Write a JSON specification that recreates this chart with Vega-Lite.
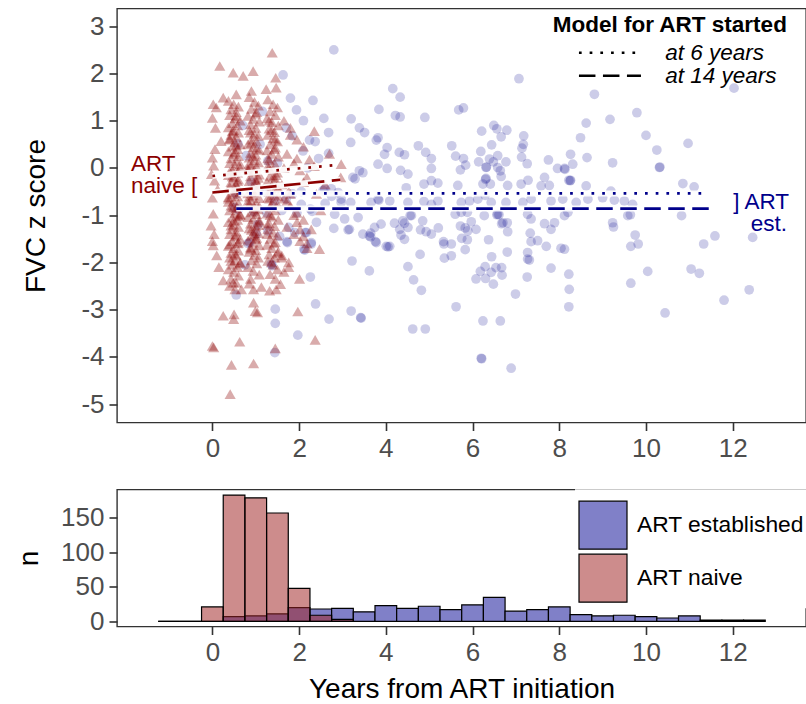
{
"$schema":"https://vega.github.io/schema/vega-lite/v6.json",
"background":"white",
"padding":{"left":14,"top":7.5,"right":1,"bottom":2},
"spacing":26,
"resolve":{"scale":{"color":"independent"},"legend":{"color":"independent"}},
"config":{"font":"Liberation Sans","view":{"stroke":"#333333","strokeWidth":1.4},
"axis":{"grid":false,"domain":false,"tickColor":"#333333","tickWidth":1.6,"tickSize":8,"labelFontSize":26,"labelColor":"#4d4d4d","labelFont":"Liberation Sans","titleFont":"Liberation Sans","titleFontSize":28,"titleFontWeight":"normal","titleColor":"black","labelPadding":5}},
"datasets":{
"est":[{"x":1.63,"y":1.97},{"x":2.8,"y":2.5},{"x":1.8,"y":1.48},{"x":2.32,"y":1.43},{"x":1.94,"y":1.23},{"x":2.57,"y":1.05},{"x":3.2,"y":1.04},{"x":2.68,"y":0.75},{"x":3.39,"y":0.85},{"x":3.51,"y":0.75},{"x":1.84,"y":0.68},{"x":2.24,"y":0.59},{"x":2.37,"y":0.56},{"x":3.19,"y":0.54},{"x":3.84,"y":1.24},{"x":3.82,"y":0.64},{"x":4.03,"y":0.43},{"x":3.97,"y":0.29},{"x":3.82,"y":0.08},{"x":4.03,"y":-0.01},{"x":0.59,"y":0.51},{"x":0.78,"y":0.26},{"x":1.28,"y":0.15},{"x":2.09,"y":0.36},{"x":2.68,"y":0.31},{"x":3.39,"y":-0.06},{"x":3.24,"y":-0.2},{"x":2.59,"y":-0.45},{"x":2.74,"y":-0.44},{"x":2.97,"y":-0.73},{"x":3.19,"y":-0.73},{"x":3.66,"y":-0.73},{"x":3.84,"y":-0.68},{"x":2.82,"y":-0.98},{"x":3.05,"y":-1.08},{"x":3.16,"y":-1.3},{"x":3.36,"y":-1.05},{"x":2.8,"y":-1.28},{"x":3.13,"y":-1.31},{"x":3.47,"y":-1.4},{"x":3.62,"y":-1.44},{"x":3.76,"y":-1.56},{"x":4.05,"y":-1.67},{"x":4.2,"y":-1.17},{"x":4.32,"y":-1.3},{"x":2.14,"y":-1.37},{"x":2.28,"y":-1.58},{"x":2.11,"y":-1.72},{"x":1.72,"y":-1.56},{"x":1.9,"y":-1.37},{"x":0.82,"y":-1.6},{"x":1.01,"y":-1.4},{"x":1.28,"y":-1.33},{"x":1.44,"y":-0.7},{"x":1.7,"y":-0.66},{"x":2.05,"y":-0.77},{"x":2.26,"y":-0.87},{"x":3.22,"y":-1.97},{"x":3.62,"y":-2.18},{"x":2.26,"y":-2.31},{"x":1.38,"y":-2.07},{"x":0.55,"y":-2.69},{"x":1.45,"y":-2.99},{"x":1.45,"y":-3.29},{"x":2.38,"y":-2.88},{"x":2.69,"y":-3.2},{"x":3.2,"y":-3.03},{"x":3.42,"y":-3.17},{"x":1.97,"y":-3.54},{"x":1.44,"y":-3.91},{"x":0.51,"y":-0.84},
{"x":4.16,"y":1.68},{"x":4.33,"y":1.5},{"x":5.68,"y":1.23},{"x":5.79,"y":1.27},{"x":7.07,"y":1.89},{"x":4.22,"y":1.11},{"x":4.33,"y":1.08},{"x":4.9,"y":1.07},{"x":3.78,"y":0.59},{"x":4.75,"y":0.47},{"x":4.92,"y":0.33},{"x":5.05,"y":0.2},{"x":4.31,"y":0.33},{"x":4.43,"y":0.28},{"x":3.47,"y":-0.1},{"x":3.29,"y":-0.23},{"x":4.34,"y":-0.05},{"x":4.51,"y":-0.13},{"x":5.05,"y":-0.01},{"x":4.88,"y":-0.34},{"x":5.05,"y":-0.27},{"x":5.2,"y":-0.32},{"x":4.47,"y":-0.42},{"x":5.52,"y":0.47},{"x":5.61,"y":0.25},{"x":5.79,"y":0.2},{"x":5.84,"y":0.06},{"x":5.72,"y":-0.04},{"x":5.66,"y":-0.37},{"x":6.21,"y":0.78},{"x":6.49,"y":0.9},{"x":6.56,"y":0.83},{"x":6.79,"y":0.8},{"x":6.66,"y":0.66},{"x":6.44,"y":0.49},{"x":6.19,"y":0.35},{"x":7.18,"y":0.68},{"x":7.17,"y":0.5},{"x":7.14,"y":0.42},{"x":6.58,"y":0.26},{"x":6.39,"y":0.19},{"x":6.48,"y":0.13},{"x":6.14,"y":0.13},{"x":6.77,"y":0.13},{"x":7.13,"y":0.23},{"x":7.26,"y":0.09},{"x":6.31,"y":0.01},{"x":6.32,"y":0.02},{"x":6.58,"y":0.01},{"x":6.64,"y":-0.06},{"x":6.66,"y":-0.18},{"x":6.3,"y":-0.24},{"x":6.31,"y":-0.22},{"x":6.24,"y":-0.34},{"x":6.41,"y":-0.34},{"x":6.81,"y":-0.37},{"x":7.12,"y":-0.34},{"x":7.28,"y":-0.26},{"x":7.75,"y":0.17},{"x":7.58,"y":-0.38},{"x":7.66,"y":-0.2},{"x":7.77,"y":-0.37},{"x":7.96,"y":-0.01},{"x":8.12,"y":-0.01},{"x":8.22,"y":-0.26},{"x":8.26,"y":0.29},{"x":2.97,"y":-0.66},{"x":3.82,"y":-0.66},{"x":4.09,"y":-0.7},{"x":4.51,"y":-0.73},{"x":4.88,"y":-0.71},{"x":5.05,"y":-0.77},{"x":5.2,"y":-0.7},{"x":5.74,"y":-0.73},{"x":5.93,"y":-0.7},{"x":6.12,"y":-0.66},{"x":6.29,"y":-0.58},{"x":6.43,"y":-0.73},{"x":6.77,"y":-0.73},{"x":7.16,"y":-0.73},{"x":7.35,"y":-0.66},{"x":7.81,"y":-0.7},{"x":8.08,"y":-0.66},{"x":4.39,"y":-1.12},{"x":4.59,"y":-1.01},{"x":4.85,"y":-1.12},{"x":5.74,"y":-0.94},{"x":5.88,"y":-0.94},{"x":6.58,"y":-0.98},{"x":6.7,"y":-1.16},{"x":7.27,"y":-0.98},{"x":7.35,"y":-1.08},{"x":7.66,"y":-1.18},{"x":7.89,"y":-1.16},{"x":8.12,"y":-1.01},{"x":8.2,"y":-0.94},{"x":3.74,"y":-1.26},{"x":3.89,"y":-1.19},
{"x":3.65,"y":-1.38},{"x":3.65,"y":-1.46},{"x":3.78,"y":-1.58},{"x":4.01,"y":-1.66},{"x":4.09,"y":-1.66},{"x":4.43,"y":-1.17},{"x":4.51,"y":-1.26},{"x":4.35,"y":-1.42},{"x":4.43,"y":-1.51},{"x":4.56,"y":-1.01},{"x":4.8,"y":-1.31},{"x":4.93,"y":-1.35},{"x":5.05,"y":-1.4},{"x":5.21,"y":-1.27},{"x":5.33,"y":-1.56},{"x":5.34,"y":-1.61},{"x":5.51,"y":-1.61},{"x":4.79,"y":-1.83},{"x":5.35,"y":-1.91},{"x":5.51,"y":-1.86},{"x":5.6,"y":-0.98},{"x":5.72,"y":-1.23},{"x":5.83,"y":-1.27},{"x":5.89,"y":-1.33},{"x":5.75,"y":-1.49},{"x":5.88,"y":-1.52},{"x":5.83,"y":-1.73},{"x":5.97,"y":-1.14},{"x":6.08,"y":-1.3},{"x":6.37,"y":-1.52},{"x":6.27,"y":-1.01},{"x":6.56,"y":-0.99},{"x":6.61,"y":-0.99},{"x":6.67,"y":-1.18},{"x":6.8,"y":-1.16},{"x":6.81,"y":-1.35},{"x":6.44,"y":-1.88},{"x":6.8,"y":-1.78},{"x":6.18,"y":-2.19},{"x":6.29,"y":-2.09},{"x":6.43,"y":-2.21},{"x":6.54,"y":-2.11},{"x":6.67,"y":-2.11},{"x":6.68,"y":-2.27},{"x":6.08,"y":-2.35},{"x":6.3,"y":-2.34},{"x":6.48,"y":-2.46},{"x":4.51,"y":-2.09},{"x":4.64,"y":-2.37},{"x":4.82,"y":-2.59},{"x":3.43,"y":-3.18},{"x":4.62,"y":-3.41},{"x":4.91,"y":-3.41},{"x":5.62,"y":-2.94},{"x":6.24,"y":-3.24},{"x":6.64,"y":-3.24},{"x":6.2,"y":-4.03},{"x":6.21,"y":-4.04},{"x":6.89,"y":-4.24},{"x":6.99,"y":-2.67},{"x":7.33,"y":-1.38},{"x":7.35,"y":-1.56},{"x":7.27,"y":-1.79},{"x":7.27,"y":-1.93},{"x":7.31,"y":-1.95},{"x":7.26,"y":-2.31},{"x":7.5,"y":-1.54},{"x":7.7,"y":-1.66},{"x":7.81,"y":-2.12},{"x":7.81,"y":-1.3},{"x":8.04,"y":-1.7},{"x":8.12,"y":-1.72},{"x":8.22,"y":-2.25},{"x":8.23,"y":-2.57},{"x":8.22,"y":-2.94},
{"x":8.81,"y":1.56},{"x":12.03,"y":1.69},{"x":9.79,"y":1.17},{"x":9.17,"y":1.03},{"x":8.62,"y":0.95},{"x":8.49,"y":0.64},{"x":10.0,"y":0.69},{"x":10.97,"y":0.52},{"x":10.25,"y":0.38},{"x":8.64,"y":0.22},{"x":9.23,"y":0.11},{"x":10.31,"y":0.01},{"x":10.32,"y":0.02},{"x":8.13,"y":-0.03},{"x":8.31,"y":0.08},{"x":8.25,"y":-0.27},{"x":8.26,"y":-0.26},{"x":8.62,"y":-0.38},{"x":10.85,"y":-0.33},{"x":11.11,"y":-0.4},{"x":9.19,"y":-0.49},{"x":9.0,"y":-0.63},{"x":9.27,"y":-0.68},{"x":9.5,"y":-0.7},{"x":8.39,"y":-0.73},{"x":8.66,"y":-0.66},{"x":9.69,"y":-0.77},{"x":9.64,"y":-0.99},{"x":10.82,"y":-1.01},{"x":9.23,"y":-1.16},{"x":9.25,"y":-1.25},{"x":9.75,"y":-1.42},{"x":11.59,"y":-1.44},{"x":12.46,"y":-1.47},{"x":9.58,"y":-1.01},{"x":9.82,"y":-1.61},{"x":9.65,"y":-1.66},{"x":11.33,"y":-1.61},{"x":10.04,"y":-2.19},{"x":9.65,"y":-2.44},{"x":11.04,"y":-2.14},{"x":11.23,"y":-2.23},{"x":10.44,"y":-3.07},{"x":11.8,"y":-2.8},{"x":12.38,"y":-2.58},
{"x":0.6,"y":-0.88},{"x":0.95,"y":-0.92},{"x":1.25,"y":-0.95},{"x":1.6,"y":-0.9},{"x":1.95,"y":-0.95},{"x":2.3,"y":-0.92},{"x":1.85,"y":-0.55},{"x":2.05,"y":-0.5},{"x":2.55,"y":-0.48},{"x":2.75,"y":-0.6},{"x":2.9,"y":-0.52},{"x":2.6,"y":-0.75},{"x":1.76,"y":-1.26},{"x":2.17,"y":-1.37},{"x":1.73,"y":-1.58},{"x":2.13,"y":-1.74},{"x":2.28,"y":-1.61},{"x":0.86,"y":-1.58},{"x":1.36,"y":-2.04},{"x":0.55,"y":-0.55},{"x":0.9,"y":-0.3},{"x":1.1,"y":0.5},{"x":1.5,"y":0.1},{"x":2.2,"y":0.0},{"x":2.45,"y":0.2},{"x":1.7,"y":0.85},{"x":2.1,"y":1.0},{"x":1.05,"y":-1.2},{"x":0.75,"y":-2.05},{"x":1.2,"y":-0.5},{"x":0.7,"y":0.9},{"x":1.15,"y":1.2},{"x":1.55,"y":-1.45},{"x":2.4,"y":-1.15}],
"naive":[{"x":0.02,"y":1.35},{"x":0.07,"y":0.85},{"x":0.0,"y":1.06},{"x":0.2,"y":0.57},{"x":0.0,"y":0.22},{"x":0.03,"y":0.05},{"x":-0.02,"y":-0.13},{"x":0.05,"y":-0.27},{"x":0.0,"y":-0.63},{"x":0.02,"y":-0.97},{"x":-0.03,"y":-1.22},{"x":0.04,"y":-1.4},{"x":0.0,"y":-1.55},{"x":0.02,"y":-1.64},{"x":0.0,"y":-3.77},{"x":0.03,"y":-3.8},{"x":0.09,"y":1.28},{"x":0.06,"y":0.4},{"x":0.12,"y":-0.45},{"x":0.1,"y":-1.85},{"x":0.15,"y":-2.1},{"x":0.17,"y":2.16},{"x":0.25,"y":1.49},{"x":0.25,"y":-2.38},{"x":0.25,"y":-3.13},
{"x":0.37,"y":1.42},{"x":0.49,"y":1.35},{"x":0.6,"y":1.3},{"x":0.43,"y":1.24},{"x":0.55,"y":1.18},{"x":0.4,"y":1.12},{"x":0.52,"y":1.05},{"x":0.64,"y":1.0},{"x":0.46,"y":0.95},{"x":0.58,"y":0.9},{"x":0.37,"y":0.86},{"x":0.49,"y":0.8},{"x":0.6,"y":0.75},{"x":0.43,"y":0.7},{"x":0.55,"y":0.66},{"x":0.4,"y":0.6},{"x":0.52,"y":0.55},{"x":0.64,"y":0.5},{"x":0.46,"y":0.45},{"x":0.58,"y":0.4},{"x":0.37,"y":0.35},{"x":0.49,"y":0.3},{"x":0.6,"y":0.25},{"x":0.43,"y":0.2},{"x":0.55,"y":0.15},{"x":0.4,"y":0.1},{"x":0.52,"y":0.05},{"x":0.64,"y":0.0},{"x":0.46,"y":-0.05},{"x":0.58,"y":-0.1},{"x":0.37,"y":-0.15},{"x":0.49,"y":-0.2},{"x":0.6,"y":-0.25},{"x":0.43,"y":-0.3},{"x":0.55,"y":-0.35},{"x":0.4,"y":-0.4},{"x":0.52,"y":-0.45},{"x":0.64,"y":-0.5},{"x":0.46,"y":-0.55},{"x":0.58,"y":-0.6},{"x":0.37,"y":-0.65},{"x":0.49,"y":-0.7},{"x":0.6,"y":-0.75},{"x":0.43,"y":-0.8},{"x":0.55,"y":-0.85},{"x":0.4,"y":-0.9},{"x":0.52,"y":-0.95},{"x":0.64,"y":-1.0},{"x":0.46,"y":-1.05},{"x":0.58,"y":-1.1},{"x":0.37,"y":-1.15},{"x":0.49,"y":-1.2},{"x":0.6,"y":-1.25},{"x":0.43,"y":-1.3},{"x":0.55,"y":-1.35},{"x":0.4,"y":-1.4},{"x":0.52,"y":-1.45},{"x":0.64,"y":-1.5},{"x":0.46,"y":-1.55},{"x":0.58,"y":-1.6},{"x":0.37,"y":-1.65},{"x":0.49,"y":-1.7},{"x":0.6,"y":-1.75},{"x":0.43,"y":-1.8},{"x":0.55,"y":-1.85},{"x":0.4,"y":-1.9},{"x":0.52,"y":-1.95},{"x":0.64,"y":-2.0},{"x":0.46,"y":-2.05},{"x":0.58,"y":-2.1},{"x":0.37,"y":-2.15},{"x":0.49,"y":-2.2},{"x":0.6,"y":-2.28},{"x":0.43,"y":-2.35},{"x":0.55,"y":-2.43},{"x":0.4,"y":-2.5},{"x":0.52,"y":-2.57},
{"x":0.55,"y":1.1},{"x":0.4,"y":0.62},{"x":0.52,"y":0.33},{"x":0.64,"y":0.08},{"x":0.46,"y":-0.18},{"x":0.58,"y":-0.42},{"x":0.37,"y":-0.62},{"x":0.49,"y":-0.83},{"x":0.6,"y":-1.02},{"x":0.43,"y":-1.22},{"x":0.55,"y":-1.42},{"x":0.4,"y":-1.62},{"x":0.52,"y":-1.82},{"x":0.64,"y":-2.02},{"x":0.46,"y":0.78},{"x":0.58,"y":-0.28},{"x":0.37,"y":-0.72},{"x":0.49,"y":-1.12},{"x":0.6,"y":-1.58},{"x":0.43,"y":-1.97},{"x":0.55,"y":0.48},{"x":0.4,"y":-0.08},{"x":0.52,"y":-0.52},{"x":0.64,"y":-0.98},
{"x":0.48,"y":2.02},{"x":0.55,"y":1.56},{"x":0.49,"y":-3.2},{"x":0.63,"y":-3.68},{"x":0.44,"y":-4.17},{"x":0.41,"y":-4.79},{"x":0.5,"y":-3.1},{"x":0.67,"y":-2.57},{"x":0.48,"y":-2.43},
{"x":0.85,"y":1.5},{"x":0.97,"y":1.4},{"x":1.06,"y":1.32},{"x":0.9,"y":1.25},{"x":1.02,"y":1.18},{"x":0.82,"y":1.1},{"x":0.94,"y":1.04},{"x":1.08,"y":0.98},{"x":0.88,"y":0.92},{"x":1.0,"y":0.85},{"x":0.85,"y":0.8},{"x":0.97,"y":0.72},{"x":1.06,"y":0.68},{"x":0.9,"y":0.6},{"x":1.02,"y":0.56},{"x":0.82,"y":0.5},{"x":0.94,"y":0.44},{"x":1.08,"y":0.38},{"x":0.88,"y":0.32},{"x":1.0,"y":0.28},{"x":0.85,"y":0.22},{"x":0.97,"y":0.16},{"x":1.06,"y":0.12},{"x":0.9,"y":0.06},{"x":1.02,"y":0.02},{"x":0.82,"y":-0.04},{"x":0.94,"y":-0.08},{"x":1.08,"y":-0.14},{"x":0.88,"y":-0.18},{"x":1.0,"y":-0.24},{"x":0.85,"y":-0.28},{"x":0.97,"y":-0.34},{"x":1.06,"y":-0.38},{"x":0.9,"y":-0.44},{"x":1.02,"y":-0.48},{"x":0.82,"y":-0.54},{"x":0.94,"y":-0.58},{"x":1.08,"y":-0.64},{"x":0.88,"y":-0.68},{"x":1.0,"y":-0.74},{"x":0.85,"y":-0.78},{"x":0.97,"y":-0.84},{"x":1.06,"y":-0.88},{"x":0.9,"y":-0.94},{"x":1.02,"y":-0.98},{"x":0.82,"y":-1.04},{"x":0.94,"y":-1.08},{"x":1.08,"y":-1.14},{"x":0.88,"y":-1.18},{"x":1.0,"y":-1.24},{"x":0.85,"y":-1.28},{"x":0.97,"y":-1.34},{"x":1.06,"y":-1.38},{"x":0.9,"y":-1.44},{"x":1.02,"y":-1.48},{"x":0.82,"y":-1.54},{"x":0.94,"y":-1.58},{"x":1.08,"y":-1.64},{"x":0.88,"y":-1.68},{"x":1.0,"y":-1.74},{"x":0.85,"y":-1.78},{"x":0.97,"y":-1.84},{"x":1.06,"y":-1.9},{"x":0.9,"y":-1.96},{"x":1.02,"y":-2.02},{"x":0.82,"y":-2.1},{"x":0.94,"y":-2.18},{"x":1.08,"y":-2.26},{"x":0.88,"y":-2.35},
{"x":1.0,"y":1.15},{"x":0.88,"y":0.75},{"x":1.02,"y":0.41},{"x":0.85,"y":0.09},{"x":1.06,"y":-0.21},{"x":0.94,"y":-0.51},{"x":0.82,"y":-0.71},{"x":0.97,"y":-0.91},{"x":1.08,"y":-1.11},{"x":0.9,"y":-1.31},{"x":1.0,"y":-1.51},{"x":0.88,"y":-1.71},{"x":0.94,"y":0.25},{"x":1.02,"y":-0.31},{"x":0.85,"y":-0.61},{"x":1.06,"y":-1.21},{"x":0.97,"y":-1.41},{"x":0.82,"y":-0.01},{"x":0.9,"y":0.53},{"x":1.08,"y":-0.81},
{"x":0.94,"y":2.05},{"x":0.71,"y":1.95},{"x":0.9,"y":1.63},{"x":0.95,"y":-2.57},{"x":1.13,"y":-2.52},{"x":0.99,"y":-3.03},{"x":0.95,"y":-2.85},{"x":1.04,"y":-3.06},{"x":0.95,"y":-4.14},{"x":0.85,"y":-2.45},
{"x":1.28,"y":1.45},{"x":1.4,"y":1.35},{"x":1.5,"y":1.28},{"x":1.33,"y":1.2},{"x":1.45,"y":1.12},{"x":1.26,"y":1.05},{"x":1.37,"y":0.97},{"x":1.52,"y":0.9},{"x":1.31,"y":0.83},{"x":1.43,"y":0.76},{"x":1.28,"y":0.7},{"x":1.4,"y":0.63},{"x":1.5,"y":0.56},{"x":1.33,"y":0.5},{"x":1.45,"y":0.43},{"x":1.26,"y":0.37},{"x":1.37,"y":0.3},{"x":1.52,"y":0.24},{"x":1.31,"y":0.17},{"x":1.43,"y":0.1},{"x":1.28,"y":0.04},{"x":1.4,"y":-0.03},{"x":1.5,"y":-0.1},{"x":1.33,"y":-0.17},{"x":1.45,"y":-0.23},{"x":1.26,"y":-0.3},{"x":1.37,"y":-0.37},{"x":1.52,"y":-0.43},{"x":1.31,"y":-0.5},{"x":1.43,"y":-0.57},{"x":1.28,"y":-0.63},{"x":1.4,"y":-0.7},{"x":1.5,"y":-0.77},{"x":1.33,"y":-0.83},{"x":1.45,"y":-0.9},{"x":1.26,"y":-0.97},{"x":1.37,"y":-1.03},{"x":1.52,"y":-1.1},{"x":1.31,"y":-1.17},{"x":1.43,"y":-1.23},{"x":1.28,"y":-1.3},{"x":1.4,"y":-1.37},{"x":1.5,"y":-1.43},{"x":1.33,"y":-1.5},{"x":1.45,"y":-1.57},{"x":1.26,"y":-1.63},{"x":1.37,"y":-1.7},{"x":1.52,"y":-1.77},{"x":1.31,"y":-1.83},{"x":1.43,"y":-1.9},{"x":1.28,"y":-1.97},{"x":1.4,"y":-2.05},{"x":1.5,"y":-2.15},{"x":1.33,"y":-2.25},{"x":1.45,"y":-2.35},
{"x":1.31,"y":1.0},{"x":1.45,"y":0.6},{"x":1.28,"y":0.2},{"x":1.4,"y":-0.2},{"x":1.52,"y":-0.6},{"x":1.33,"y":-1.0},{"x":1.26,"y":-1.4},{"x":1.5,"y":-1.8},{"x":1.37,"y":0.8},{"x":1.43,"y":0.4},{"x":1.3,"y":0.0},{"x":1.48,"y":-0.4},{"x":1.35,"y":-0.8},{"x":1.27,"y":-1.2},{"x":1.42,"y":-1.6},{"x":1.36,"y":-2.0},{"x":1.47,"y":-0.15},{"x":1.32,"y":-0.65},
{"x":1.38,"y":2.44},{"x":1.46,"y":1.91},{"x":1.47,"y":1.7},{"x":1.24,"y":1.67},{"x":1.32,"y":-2.6},{"x":1.47,"y":-2.57},{"x":1.57,"y":-2.46},{"x":1.45,"y":-3.82},
{"x":1.65,"y":1.0},{"x":1.8,"y":0.85},{"x":1.95,"y":0.6},{"x":2.1,"y":0.45},{"x":1.72,"y":0.3},{"x":1.88,"y":0.1},{"x":2.02,"y":-0.05},{"x":2.18,"y":-0.2},{"x":1.6,"y":-0.35},{"x":1.76,"y":-0.5},{"x":1.65,"y":-0.65},{"x":1.8,"y":-0.8},{"x":1.95,"y":-0.95},{"x":2.1,"y":-1.1},{"x":1.72,"y":-1.25},{"x":1.88,"y":-1.4},{"x":2.02,"y":-1.55},{"x":2.18,"y":-1.7},{"x":1.6,"y":-1.85},{"x":1.76,"y":-2.0},{"x":1.65,"y":-2.2},{"x":1.8,"y":0.7},{"x":1.95,"y":0.2},{"x":2.1,"y":-0.3},{"x":1.72,"y":-0.7},{"x":1.88,"y":-1.0},{"x":2.02,"y":-1.3},{"x":2.18,"y":-1.6},{"x":1.6,"y":-1.9},{"x":1.76,"y":-2.1},{"x":1.65,"y":0.0},{"x":1.8,"y":-0.55},{"x":1.95,"y":-1.15},{"x":2.1,"y":-1.45},{"x":2.01,"y":-2.35},{"x":1.97,"y":-3.04},
{"x":2.35,"y":0.78},{"x":2.24,"y":0.18},{"x":2.35,"y":0.04},{"x":2.97,"y":0.08},{"x":2.96,"y":-0.2},{"x":2.28,"y":-1.3},{"x":2.47,"y":-1.72},{"x":2.37,"y":-3.64},{"x":2.6,"y":-0.35},{"x":2.5,"y":-0.9},{"x":2.7,"y":0.3},{"x":2.4,"y":-0.55}],
"lines":[{"id":"n6","grp":"naive","model":"at 6 years","x":0,"y":-0.17},{"id":"n6","grp":"naive","model":"at 6 years","x":2.85,"y":0.06},{"id":"n14","grp":"naive","model":"at 14 years","x":0,"y":-0.52},{"id":"n14","grp":"naive","model":"at 14 years","x":2.95,"y":-0.25},{"id":"e6","grp":"est","model":"at 6 years","x":0.6,"y":-0.54},{"id":"e6","grp":"est","model":"at 6 years","x":11.4,"y":-0.54},{"id":"e14","grp":"est","model":"at 14 years","x":0.55,"y":-0.86},{"id":"e14","grp":"est","model":"at 14 years","x":11.5,"y":-0.86}],
"notes":[{"grp":"naive","label":"ART","x":-1.88,"y":-0.06},{"grp":"naive","label":"naive [","x":-1.88,"y":-0.54},{"grp":"est","label":"] ART","x":13.3,"y":-0.87},{"grp":"est","label":"est.","x":13.25,"y":-1.33}],
"hist":[{"group":"ART established","x0":-1.25,"x1":-0.75,"n":0},{"group":"ART established","x0":-0.75,"x1":-0.25,"n":0},{"group":"ART established","x0":-0.25,"x1":0.25,"n":0},{"group":"ART established","x0":0.25,"x1":0.75,"n":7},{"group":"ART established","x0":0.75,"x1":1.25,"n":8},{"group":"ART established","x0":1.25,"x1":1.75,"n":11},{"group":"ART established","x0":1.75,"x1":2.25,"n":20},{"group":"ART established","x0":2.25,"x1":2.75,"n":18},{"group":"ART established","x0":2.75,"x1":3.25,"n":19},{"group":"ART established","x0":3.25,"x1":3.75,"n":14},{"group":"ART established","x0":3.75,"x1":4.25,"n":23},{"group":"ART established","x0":4.25,"x1":4.75,"n":19},{"group":"ART established","x0":4.75,"x1":5.25,"n":22},{"group":"ART established","x0":5.25,"x1":5.75,"n":17},{"group":"ART established","x0":5.75,"x1":6.25,"n":24},{"group":"ART established","x0":6.25,"x1":6.75,"n":35},{"group":"ART established","x0":6.75,"x1":7.25,"n":15},{"group":"ART established","x0":7.25,"x1":7.75,"n":17},{"group":"ART established","x0":7.75,"x1":8.25,"n":21},{"group":"ART established","x0":8.25,"x1":8.75,"n":10},{"group":"ART established","x0":8.75,"x1":9.25,"n":8},{"group":"ART established","x0":9.25,"x1":9.75,"n":9},{"group":"ART established","x0":9.75,"x1":10.25,"n":7},{"group":"ART established","x0":10.25,"x1":10.75,"n":5},{"group":"ART established","x0":10.75,"x1":11.25,"n":8},{"group":"ART established","x0":11.25,"x1":11.75,"n":2},{"group":"ART established","x0":11.75,"x1":12.25,"n":2},{"group":"ART established","x0":12.25,"x1":12.75,"n":2},
{"group":"ART naive","x0":-1.25,"x1":-0.75,"n":0},{"group":"ART naive","x0":-0.75,"x1":-0.25,"n":0},{"group":"ART naive","x0":-0.25,"x1":0.25,"n":21},{"group":"ART naive","x0":0.25,"x1":0.75,"n":183},{"group":"ART naive","x0":0.75,"x1":1.25,"n":179},{"group":"ART naive","x0":1.25,"x1":1.75,"n":157},{"group":"ART naive","x0":1.75,"x1":2.25,"n":48},{"group":"ART naive","x0":2.25,"x1":2.75,"n":9},{"group":"ART naive","x0":2.75,"x1":3.25,"n":3}]
},
"vconcat":[
{"width":689,"height":414,
"layer":[
{"data":{"name":"est"},"mark":{"type":"circle","size":95,"color":"#00008b","opacity":0.2},
"encoding":{"x":{"field":"x","type":"quantitative","scale":{"domain":[-2.2,13.69],"nice":false,"zero":false},"axis":{"values":[0,2,4,6,8,10,12],"title":null}},
"y":{"field":"y","type":"quantitative","scale":{"domain":[-5.39,3.377],"nice":false,"zero":false},"axis":{"values":[-5,-4,-3,-2,-1,0,1,2,3],"title":"FVC z score","titlePadding":30,"labelExpr":"'' + datum.value"}}}},
{"data":{"name":"naive"},"mark":{"type":"point","shape":"triangle-up","filled":true,"size":125,"color":"#8b0000","opacity":0.33},
"encoding":{"x":{"field":"x","type":"quantitative"},"y":{"field":"y","type":"quantitative"}}},
{"data":{"name":"lines"},"mark":{"type":"line","color":"white","strokeWidth":6,"opacity":0.9},
"encoding":{"x":{"field":"x","type":"quantitative"},"y":{"field":"y","type":"quantitative"},"detail":{"field":"id"}}},
{"data":{"name":"lines"},"mark":{"type":"line","strokeWidth":2.7},
"encoding":{"x":{"field":"x","type":"quantitative"},"y":{"field":"y","type":"quantitative"},"detail":{"field":"id"},
"color":{"field":"grp","type":"nominal","scale":{"domain":["naive","est"],"range":["#8b0000","#00008b"]},"legend":null},
"strokeDash":{"field":"model","type":"nominal","scale":{"domain":["at 6 years","at 14 years"],"range":[[2.7,8],[16.5,7.5]]},
"legend":{"title":"Model for ART started","orient":"none","legendX":435.7,"legendY":5.5,"padding":0,"titleFont":"Liberation Sans","titleFontSize":22.5,"titleFontWeight":"bold","titleColor":"black","titlePadding":5,"titleLimit":400,"labelLimit":300,"labelFont":"Liberation Sans","labelFontSize":22.5,"labelFontStyle":"italic","labelColor":"black","symbolType":"M-6.2,0H6.2","symbolSize":100,"symbolStrokeColor":"black","symbolStrokeWidth":2.7,"symbolOffset":46,"labelOffset":44,"rowPadding":-7}}}},
{"data":{"name":"notes"},"transform":[{"filter":"datum.grp === 'naive'"}],"mark":{"type":"text","fontSize":22.5,"align":"left","baseline":"alphabetic","font":"Liberation Sans"},
"encoding":{"x":{"field":"x","type":"quantitative"},"y":{"field":"y","type":"quantitative"},"text":{"field":"label"},"color":{"field":"grp","type":"nominal","legend":null}}},
{"data":{"name":"notes"},"transform":[{"filter":"datum.grp === 'est'"}],"mark":{"type":"text","fontSize":22.5,"align":"right","baseline":"alphabetic","font":"Liberation Sans"},
"encoding":{"x":{"field":"x","type":"quantitative"},"y":{"field":"y","type":"quantitative"},"text":{"field":"label"},"color":{"field":"grp","type":"nominal","legend":null}}}
]},
{"width":689,"height":137,
"data":{"name":"hist"},
"mark":{"type":"rect","stroke":"black","strokeWidth":1.2},
"encoding":{
"x":{"field":"x0","type":"quantitative","scale":{"domain":[-2.2,13.69],"nice":false,"zero":false},"axis":{"values":[0,2,4,6,8,10,12],"title":"Years from ART initiation","titlePadding":10}},
"x2":{"field":"x1"},
"y":{"field":"n","type":"quantitative","scale":{"domain":[-7.3,191],"nice":false,"zero":false},"axis":{"values":[0,50,100,150],"title":"n","titlePadding":17}},
"y2":{"datum":0},
"fillOpacity":{"condition":{"test":"datum.group === 'ART naive'","value":0.53},"value":1},
"color":{"field":"group","type":"nominal","scale":{"domain":["ART established","ART naive"],"range":["#8080c8","#a02626"]},
"legend":{"title":" ","titleFontSize":6,"titlePadding":2,"orient":"none","legendX":458,"legendY":-0.3,"fillColor":"white","padding":3,"symbolType":"square","symbolSize":2304,"symbolStrokeColor":"black","symbolStrokeWidth":1.2,"labelFont":"Liberation Sans","labelFontSize":22.8,"labelColor":"black","labelOffset":9,"rowPadding":-1,"labelLimit":300,
"encode":{"symbols":{"update":{"fillOpacity":{"signal":"datum.value === 'ART naive' ? 0.53 : 1"},"opacity":{"value":1}}}}}}
}}
]
}
